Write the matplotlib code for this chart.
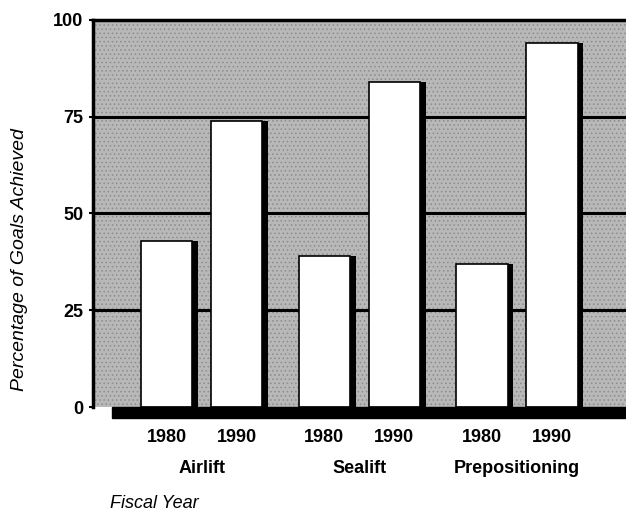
import matplotlib
matplotlib.use('Agg')
from matplotlib import pyplot as plt
from matplotlib.patches import Rectangle
import numpy as np

groups = ['Airlift', 'Sealift', 'Prepositioning']
years = ['1980', '1990']
vals_1980 = [43, 39, 37]
vals_1990 = [74, 84, 94]
yticks = [0, 25, 50, 75, 100]

plt.rcParams['font.family'] = ['Liberation Sans', 'DejaVu Sans']
plt.rcParams['hatch.color'] = '#8c8c8c'
plt.rcParams['hatch.linewidth'] = 0.6

fig = plt.figure(figsize=(6.26, 5.11), dpi=100)
ax = fig.add_axes([93/626, 104/511, 547/626, 387/511])

bg = '#b8b8b8'
ax.set_facecolor(bg)
# halftone-ish texture of the shaded area
ax.add_patch(Rectangle((0, 0), 1, 1, transform=ax.transAxes, facecolor='none',
                       hatch='....', linewidth=0, zorder=0))

x = np.arange(len(groups))
off = 0.222
w = 0.325
sh = 0.037  # shadow shift

for i, vals in enumerate([vals_1980, vals_1990]):
    pos = x + (-off if i == 0 else off)
    ax.bar(pos + sh, vals, width=w, color='black', zorder=2)
    ax.bar(pos, vals, width=w, color='white', edgecolor='black', linewidth=1.2, zorder=3)

for yv in yticks[1:-1]:
    ax.axhline(yv, color='black', linewidth=2.2, zorder=1)

ax.set_xlim(-0.69, 2.78)
ax.set_ylim(0, 100)

# black base under the bars
ax.add_patch(Rectangle((-0.57, -2.9), 4, 2.9, color='black', clip_on=False, zorder=4))

for s in ['right', 'bottom']:
    ax.spines[s].set_visible(False)
ax.spines['left'].set_linewidth(2.5)
ax.spines['top'].set_linewidth(2.5)

ax.set_yticks(yticks)
ax.set_yticklabels([str(v) for v in yticks], fontsize=13, fontweight='bold')
ax.tick_params(axis='y', length=3, width=1.5, pad=4)
ax.set_xticks([])

for g in x:
    ax.text(g - off, -7.8, years[0], ha='center', va='center', fontsize=13, fontweight='bold')
    ax.text(g + off, -7.8, years[1], ha='center', va='center', fontsize=13, fontweight='bold')
    ax.text(g, -16.0, groups[g], ha='center', va='center', fontsize=13, fontweight='bold')

fig.text(110/626, 1 - 504/511, 'Fiscal Year', fontsize=13, style='italic', ha='left', va='center')
fig.text(20/626, 1 - 260/511, 'Percentage of Goals Achieved', fontsize=14, style='italic',
         rotation=90, ha='center', va='center')

fig.savefig('out.png', dpi=100)
